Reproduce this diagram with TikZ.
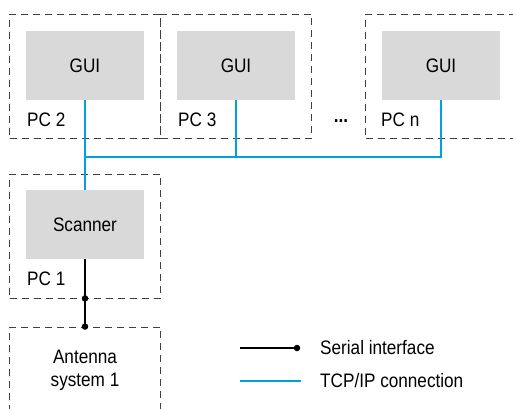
\documentclass[tikz,border=0pt]{standalone}
\usepackage{fontspec}
\setmainfont{Liberation Sans}[FakeStretch=0.88]
\usetikzlibrary{positioning, calc, arrows.meta}
\definecolor{boxgray}{RGB}{217, 217, 217}
\definecolor{framegray}{RGB}{64, 64, 64}
\definecolor{tcpblue}{RGB}{0, 160, 227}

\begin{document}
\begin{tikzpicture}[
    x=1pt, y=-1pt,
    font=\fontsize{19.5}{23}\selectfont,
    pcframe/.style={draw=framegray, line width=0.9pt, dash pattern=on 7pt off 5pt, minimum width=151pt, minimum height=124pt, inner sep=0pt},
    unitbox/.style={fill=boxgray, minimum width=118pt, minimum height=69pt, inner sep=0pt},
    pclabel/.style={anchor=west, inner sep=0pt},
    tcp/.style={tcpblue, line width=2pt},
    serial/.style={black, line width=1.8pt},
    dot/.style={circle, fill=black, inner sep=0pt, minimum size=6.5pt}
]
    \clip (0,0) rectangle (513,408);

    % PC frames
    \node[pcframe] (pc2) at (85,76) {};
    \node[pcframe] (pc3) at (236,76) {};
    \node[pcframe] (pcn) at (441,76) {};
    \node[pcframe] (pc1) at (85,236) {};
    \node[pcframe] (antenna) at (85,389) {};

    % programs
    \node[unitbox] (gui2) at (85,65.5) {GUI};
    \node[unitbox] (gui3) at (236,65.5) {GUI};
    \node[unitbox] (guin) at (441,65.5) {GUI};
    \node[unitbox] (scanner) at (85,224.5) {Scanner};

    \node[pclabel] (lbl2) at (27,120) {PC 2};
    \node[pclabel] (lbl3) at (178,120) {PC 3};
    \node[pclabel] (lbln) at (381,120) {PC n};
    \node[pclabel] (lbl1) at (27,279) {PC 1};
    \node[font=\fontsize{19.5}{23}\selectfont\bfseries] (dots) at (341,121) {...};
    \node[align=center] (antlbl) at (85,370) {Antenna\\system 1};

    % network
    \coordinate (bus) at (85,157);
    \draw[tcp] (gui2.south) -- (gui2.south |- bus) -| (guin.south);
    \draw[tcp] (gui3.south) -- (gui3.south |- bus);
    \draw[tcp] (gui2.south |- bus) -- (scanner.north);

    \draw[serial] (scanner.south) -- (antenna.north);
    \node[dot] at (scanner.south |- pc1.south) {};
    \node[dot] at (antenna.north) {};

    % legend
    \coordinate (ser0) at (240,348);
    \coordinate (ser1) at (297,348);
    \coordinate (tcp0) at (240,381);
    \coordinate (tcp1) at (301,381);
    \draw[serial, line width=1.5pt] (ser0) -- (ser1);
    \node[dot] at (ser1) {};
    \draw[tcp] (tcp0) -- (tcp1);
    \node[pclabel] (serlbl) at (320,348) {Serial interface};
    \node[pclabel] (tcplbl) at (320,381) {TCP/IP connection};
\end{tikzpicture}
\end{document}
